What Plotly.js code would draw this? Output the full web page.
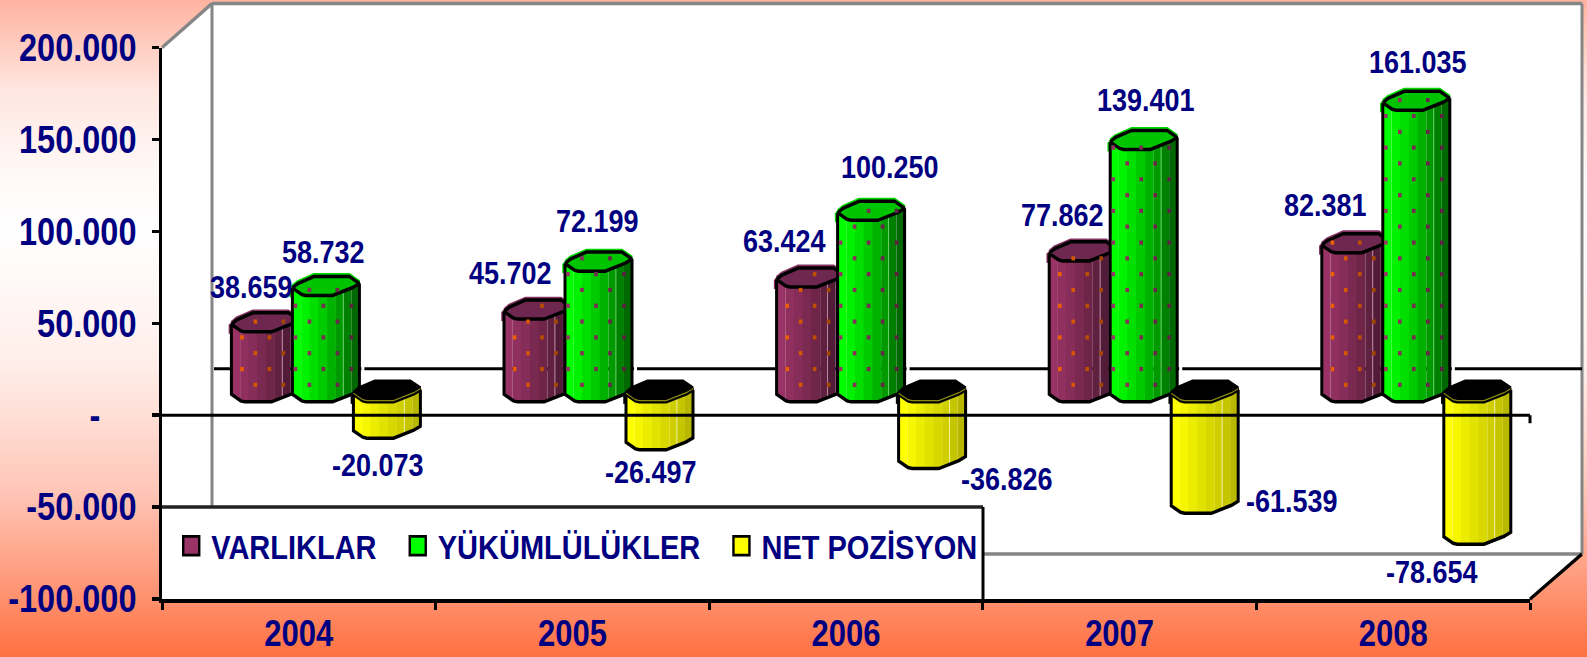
<!DOCTYPE html>
<html><head><meta charset="utf-8">
<script src="https://cdn.plot.ly/plotly-3.0.1.min.js"></script>
<style>
html,body{margin:0;padding:0;width:1587px;height:657px;overflow:hidden;
background:linear-gradient(180deg,#FFB3A0 0px,#FFE6E0 90px,#FFF8F6 170px,#FFFFFF 230px,#FFEDE8 370px,#FFC6B8 490px,#FFA083 570px,#FF7040 657px);}
#chart{position:absolute;left:0;top:0;transform-origin:0 0;}
</style></head><body><div id="chart"></div>
<script>
const years=['2004','2005','2006','2007','2008'];
const varliklar=[38659,45702,63424,77862,82381];
const yukumlulukler=[58732,72199,100250,139401,161035];
const netPozisyon=[-20073,-26497,-36826,-61539,-78654];
const tickValues=[200000,150000,100000,50000,0,-50000,-100000];
const tickLabels=['200.000','150.000','100.000','50.000','-\u00A0\u00A0\u00A0\u00A0','-50.000','-100.000'];
const seriesNames=['VARLIKLAR','YÜKÜMLÜLÜKLER','NET POZİSYON'];
const legendPad='\u00A0\u00A0';

// page geometry, in reference pixels
const S=1.17, W=1587, H=657;
const PL=162,PR=1582,PT=3,PB=598;          // plot area incl. back wall
const AR=1530, AT=47;                      // front axes right / top
const BARL=189.6, pxPerCat=272.6;          // bars' own category scale (part-way back in the box)
const pxPerVal=(PB-AT)/300000*0.985, ZERO=401;
const barW=67, barStep=61;
const WALLB=553, WALLZ=368;
const axisPxPerVal=(PB-AT)/300000;
const px=(x,y)=>[(x-PL)/(PR-PL),(PB-y)/(PB-PT)];

// cross-section of the prism: [fraction of width, pixels above lowest point]
const front=[[0,7.5],[.14,1],[.2,0],[.6,0],[.9,8],[1,12]];
const back=[[1,12],[.85,19],[.32,19],[.08,12],[0,7.5]];
const bandEdges=[0,.13,.26,.39,.52,.65,.76,.88,1];
const purpleBands=['#993366','#90305F','#862D59','#7A2950','#6E2548','#602040','#521C38','#441730'];
const greenBands=['#00FF00','#00F200','#00DF00','#00CA00','#00B200','#009A00','#008000','#006800'];
const yellowBands=['#FFFF00','#F6F600','#ECEC00','#E2E200','#D8D800','#CFCF00','#C5C500','#B8B800'];
const capColors=['#6E2850','#00C400','#000000'];
const rimColors=['#843060','#00D800','#000000'];
const sheen=['#B98AA4','#66D066','#F0F0A0'];
const seriesColor=['#993366','#00FF00','#FFFF00'];
const dotA=[[10.6,38,66],[3,31,59],[]], dotB=[[24,52],[17,45],[]];
const dotFrom=['#FF6600','#993366'], dotTo=['#8A3C00','#55203C'];

const all=[varliklar,yukumlulukler,netPozisyon];
const allBands=[purpleBands,greenBands,yellowBands];
const frontAt=u=>{for(let i=0;i<front.length-1;i++){const a=front[i],b=front[i+1];if(u<=b[0])return a[1]+(b[1]-a[1])*(u-a[0])/(b[0]-a[0]);}return 12;};
const backAt=u=>{for(let i=0;i<back.length-1;i++){const a=back[i],b=back[i+1];if(u>=b[0])return b[1]+(a[1]-b[1])*(u-b[0])/(a[0]-b[0]);}return 7.5;};

const traces=[];
const cx=(i,s)=>i+(s-1)*barStep/pxPerCat;
const X=(i,s,u,dp=0)=>cx(i,s)+((u-.5)*barW+dp)/pxPerCat;
const Y=(v,dp=0)=>v+dp/pxPerVal;
const C=(pts,i,s,v,dp=0,dx=0)=>{return {x:pts.map(p=>X(i,s,p[0],dx)),y:pts.map(p=>Y(v,p[1]+dp))};};

// legend carriers on the main axes
seriesNames.forEach((n,s)=>{
  traces.push({type:'scatter',mode:'markers',xaxis:'x',yaxis:'y',name:s<2?n+legendPad:n,x:years,y:years.map(()=>null),
    marker:{symbol:'square',size:16,color:seriesColor[s],line:{color:'#000000',width:2.4}},hoverinfo:'skip'});
});

// real bars (front strip of each prism)
all.forEach((vals,s)=>{
  traces.push({type:'bar',xaxis:'x2',yaxis:'y2',x:years.map((_,i)=>i),y:vals,
    width:.42*barW/pxPerCat,offset:years.map((_,i)=>(s-1)*barStep/pxPerCat+(-.5+.19)*barW/pxPerCat),
    marker:{color:allBands[s][3],line:{width:0}},showlegend:false,hoverinfo:'skip',name:seriesNames[s]});
});

all.forEach((vals,s)=>{
  const pushLine=(xs,ys,color,width)=>traces.push({type:'scatter',mode:'lines',xaxis:'x2',yaxis:'y2',x:xs,y:ys,
    line:{color,width,shape:'linear'},showlegend:false,hoverinfo:'skip'});
  // rim behind cap
  let rx=[],ry=[];
  vals.forEach((v,i)=>{const t=Math.max(v,0);
    const c=C(back,i,s,t,2,0);const l=C([[0,7.5]],i,s,t,0,-1.5);
    rx.push(...l.x,...c.x,null);ry.push(...l.y,...c.y,null);
    const e=C([[0,7.5],[0,-2]],i,s,t,0,-1.5);rx.push(...e.x,null);ry.push(...e.y,null);});
  pushLine(rx,ry,rimColors[s],2.5);
  // white glint below and right
  let wx=[],wy=[];
  vals.forEach((v,i)=>{const b=Math.min(v,0),t=Math.max(v,0);
    const c=C(front,i,s,b,-3.5,0);
    const r=C([[1,12]],i,s,t,-2,3.5);
    const rb=C([[1,12]],i,s,b,-3.5,3.5);
    wx.push(...c.x,...rb.x,...r.x,null);wy.push(...c.y,...rb.y,...r.y,null);});
  pushLine(wx,wy,'#FFFFFF',3);
  // vertical facets
  allBands[s].forEach((col,k)=>{
    const u0=bandEdges[k],u1=bandEdges[k+1];
    const us=[u0,...front.map(p=>p[0]).filter(u=>u>u0&&u<u1),u1];
    let xs=[],ys=[];
    vals.forEach((v,i)=>{const t=Math.max(v,0),b=Math.min(v,0);
      us.forEach(u=>{xs.push(X(i,s,u));ys.push(Y(t,frontAt(u)));});
      [...us].reverse().forEach(u=>{xs.push(X(i,s,u));ys.push(Y(b,frontAt(u)));});
      xs.push(null);ys.push(null);});
    traces.push({type:'scatter',mode:'lines',xaxis:'x2',yaxis:'y2',x:xs,y:ys,fill:'toself',fillcolor:col,
      line:{width:0,color:col},showlegend:false,hoverinfo:'skip'});
  });
  // sheen
  let sx=[],sy=[];
  vals.forEach((v,i)=>{const t=Math.max(v,0),b=Math.min(v,0),u=.76;
    sx.push(X(i,s,u),X(i,s,u),null);sy.push(Y(t,frontAt(u)),Y(b,frontAt(u)),null);});
  pushLine(sx,sy,sheen[s],1);
  // cap
  let capx=[],capy=[];
  vals.forEach((v,i)=>{const t=Math.max(v,0);const pts=[...front,...back.slice(1)];const c=C(pts,i,s,t);
    capx.push(...c.x,null);capy.push(...c.y,null);});
  traces.push({type:'scatter',mode:'lines',xaxis:'x2',yaxis:'y2',x:capx,y:capy,fill:'toself',fillcolor:capColors[s],
    line:{width:0,color:capColors[s]},showlegend:false,hoverinfo:'skip'});
  // outline
  let ox=[],oy=[];
  vals.forEach((v,i)=>{const t=Math.max(v,0),b=Math.min(v,0);
    const c1=C(front,i,s,b);
    const l=C([[0,7.5]],i,s,t), r=C([[1,12]],i,s,t);
    ox.push(...l.x,...c1.x,...r.x,null);oy.push(...l.y,...c1.y,...r.y,null);
    const f=C(front,i,s,t), k=C(back,i,s,t);
    ox.push(...f.x,...k.x,null);oy.push(...f.y,...k.y,null);});
  pushLine(ox,oy,'#000000',3);
  if(s===2){ // olive lip under the black cap
    let lx=[],ly=[];
    vals.forEach((v,i)=>{const c=C(front,i,s,0,1.2);lx.push(...c.x,null);ly.push(...c.y,null);});
    pushLine(lx,ly,'#8A8A10',1);
  }
  // speckles
  if(dotA[s].length){
    let dx=[],dy=[],dc=[];
    const mix=(a,b,t)=>{const h=c=>[1,3,5].map(j=>parseInt(c.substr(j,2),16));const A=h(a),B=h(b);
      return 'rgb('+A.map((q,j)=>Math.round(q+(B[j]-q)*t)).join(',')+')';};
    vals.forEach((v,i)=>{
      const yt=ZERO-v*pxPerVal, yb=ZERO;
      for(let r=-16;r<=8;r++){
        const rowY=305+15.8*r, cols=(((r%2)+2)%2===0)?dotA[s]:dotB[s];
        cols.forEach(c=>{
          const u=c/barW;
          if(rowY>=yt-backAt(u)+2 && rowY<=yb-frontAt(u)-4 && u<1){
            dx.push(X(i,s,u));dy.push((ZERO-rowY)/pxPerVal);dc.push(mix(dotFrom[s],dotTo[s],u));
          }
        });
      }
    });
    traces.push({type:'scatter',mode:'markers',xaxis:'x2',yaxis:'y2',x:dx,y:dy,
      marker:{symbol:'square',size:3.6,color:dc,line:{width:0}},showlegend:false,hoverinfo:'skip'});
  }
});

const poly=pts=>pts.map((p,i)=>{const q=px(p[0],p[1]);return (i?'L':'M')+q[0]+','+q[1];}).join('')+'Z';
const shape=(pts,fill)=>({type:'path',xref:'paper',yref:'paper',path:poly(pts),fillcolor:fill,line:{width:0},layer:'below'});
const line=(x0,y0,x1,y1,color,width,layer='below')=>{const a=px(x0,y0),b=px(x1,y1);
  return {type:'line',xref:'paper',yref:'paper',x0:a[0],y0:a[1],x1:b[0],y1:b[1],line:{color,width},layer};};
const grey='#858585';
const Y0=PB-100000*axisPxPerVal;
const shapes=[
  shape([[PL+50,PT],[PR,PT],[PR,WALLB],[PL+50,WALLB]],'#FFFFFF'),
  shape([[PL,AT],[PL+50,PT],[PL+50,WALLB],[PL,PB]],'#FFFFFF'),
  shape([[PL,PB],[PL+50,WALLB],[PR,WALLB],[AR,PB]],'#FFFFFF'),
  line(PL,AT,PL+50,PT,grey,3),
  line(PL+50,PT,PR,PT,grey,3),
  line(PL+50,PT,PL+50,WALLB,grey,3),
  line(PR,PT,PR,WALLB,grey,3),
  line(PL+50,WALLB,PR,WALLB,grey,3),
  line(AR,PB,PR,WALLB,'#000000',3),
  line(PL+52,WALLZ,PR,WALLZ,'#000000',2.6),
  // legend panel
  shape([[PL,506],[983,506],[983,PB],[PL,PB]],'#FFFFFF'),
  line(PL,506,983,506,'#222222',3),
  line(983,506,983,PB,'#000000',3),
  // front zero line runs over the bars
  line(PL-7,Y0,AR,Y0,'#000000',2.6,'above'),
  line(AR,Y0,AR,Y0+8,'#000000',3,'above')
];

const fmt=v=>{const a=Math.abs(v),t=Math.floor(a/1000),r=String(a%1000).padStart(3,'0');return (v<0?'-':'')+t+'.'+r;};
const labelCentres=[
 [[251,287],[323,252],[378,465]],
 [[510,273],[597,220],[651,472]],
 [[784,240],[890,167],[1007,479]],
 [[1062,214],[1146,100],[1292,501]],
 [[1325,205],[1418,61],[1432,571]]
];
const navy='#000080', fam='"Liberation Sans", Arial, sans-serif';
const annotations=[];
years.forEach((y,i)=>all.forEach((vals,s)=>{
  const p=px(labelCentres[i][s][0],labelCentres[i][s][1]);
  annotations.push({xref:'paper',yref:'paper',x:p[0],y:p[1],text:fmt(vals[i]),showarrow:false,xanchor:'center',yanchor:'middle',
    font:{family:fam,size:27,color:navy,weight:700}});
}));

const plotW=PR-PL, plotH=PB-PT;
const layout={
  width:W,height:H/S,showlegend:true,
  margin:{l:PL,r:W-PR,t:PT/S,b:(H-PB)/S,pad:0},
  paper_bgcolor:'rgba(0,0,0,0)',plot_bgcolor:'rgba(0,0,0,0)',
  barmode:'overlay',
  font:{family:fam,color:navy},
  xaxis:{type:'category',categoryorder:'array',categoryarray:years,range:[-.5,4.5],domain:[0,(AR-PL)/plotW],anchor:'y',
    tickson:'boundaries',ticks:'outside',ticklen:7/S,tickwidth:3,tickcolor:'#000',showline:true,linewidth:3,linecolor:'#000',showgrid:false,zeroline:false,
    tickfont:{family:fam,size:31,color:navy,weight:700},ticklabelstandoff:2.5},
  yaxis:{range:[-100000,200000],domain:[0,(PB-AT)/plotH],anchor:'x',tickmode:'array',tickvals:tickValues,ticktext:tickLabels,
    ticks:'outside',ticklen:7,tickwidth:3,tickcolor:'#000',showline:true,linewidth:3,linecolor:'#000',showgrid:false,zeroline:false,
    tickfont:{family:fam,size:32.5,color:navy,weight:700},ticklabelstandoff:9},
  xaxis2:{type:'linear',range:[-.5,4.5],domain:[(BARL-PL)/plotW,(BARL+5*pxPerCat-PL)/plotW],anchor:'y2',visible:false},
  yaxis2:{type:'linear',range:[-100000,200000],domain:[(PB-(ZERO+100000*pxPerVal))/plotH,(PB-(ZERO-200000*pxPerVal))/plotH],anchor:'x2',visible:false},
  legend:{orientation:'h',x:.0065,xanchor:'left',y:(PB-545)/plotH,yanchor:'middle',bgcolor:'rgba(0,0,0,0)',borderwidth:0,
    font:{family:fam,size:29,color:navy,weight:700},traceorder:'normal',itemclick:false,itemdoubleclick:false},
  shapes,annotations
};
const el=document.getElementById('chart');
el.style.transform='scale(1,'+S+')';
Plotly.newPlot(el,traces,layout,{displayModeBar:false,staticPlot:true,responsive:false});
</script></body></html>
